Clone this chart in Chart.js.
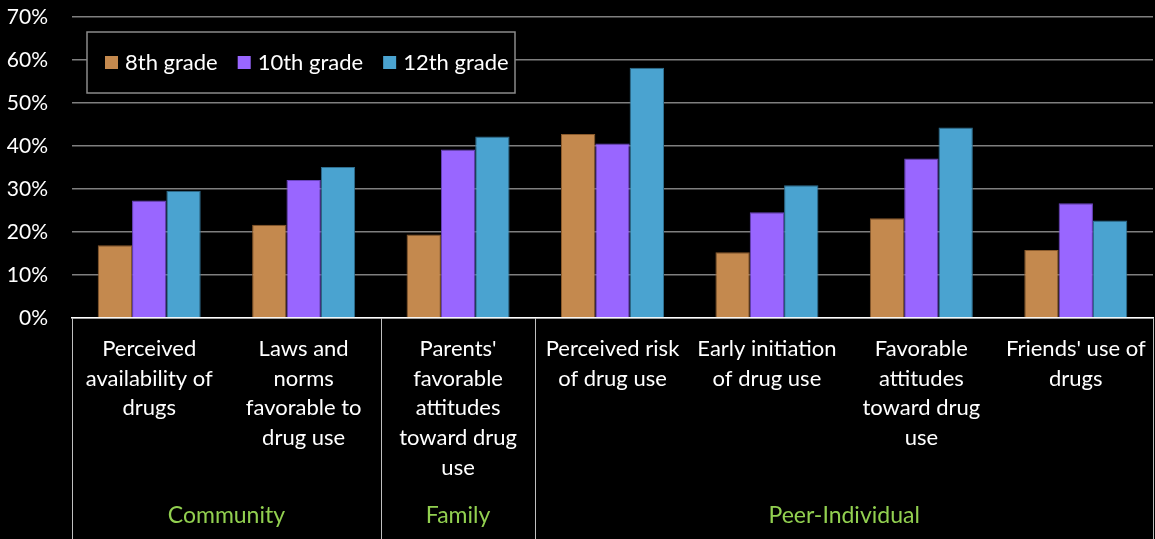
<!DOCTYPE html>
<html>
<head>
<meta charset="utf-8">
<script src="https://cdn.jsdelivr.net/npm/chart.js@4"></script>
<style>
  html, body { margin: 0; padding: 0; background: #000; }
  #wrap { width: 1155px; height: 539px; position: relative; }
</style>
</head>
<body>
<div id="wrap"><canvas id="riskChart"></canvas></div>
<script>
// categories (pre-wrapped like the original)
const categories = [
    ["Perceived", "availability of", "drugs"],
    ["Laws and", "norms", "favorable to", "drug use"],
    ["Parents'", "favorable", "attitudes", "toward drug", "use"],
    ["Perceived risk", "of drug use"],
    ["Early initiation", "of drug use"],
    ["Favorable", "attitudes", "toward drug", "use"],
    ["Friends' use of", "drugs"]
];
const groupNames = ["Community", "Family", "Peer-Individual"];
const groupSizes = [2, 1, 4];

const seriesNames = ["8th grade", "10th grade", "12th grade"];
const grade8 = [16.9, 21.7, 19.4, 42.8, 15.3, 23.2, 15.8];
const grade10 = [27.3, 32.1, 39.2, 40.6, 24.6, 37.1, 26.7];
const grade12 = [29.6, 35.1, 42.2, 58.2, 30.9, 44.3, 22.7];
const yTicks = [0, 10, 20, 30, 40, 50, 60, 70];

const FONT = "Lato, 'Open Sans', sans-serif";

// legend box drawn inside the plot area
const boxLegend = {
    id: 'boxLegend',
    afterDraw(chart) {
        const ctx = chart.ctx;
        ctx.save();
        ctx.fillStyle = '#000';
        ctx.fillRect(87, 32, 428, 61);
        ctx.strokeStyle = '#8a8a8a';
        ctx.lineWidth = 1.5;
        ctx.strokeRect(87, 32, 428, 61);
        ctx.font = "22px " + FONT;
        ctx.textBaseline = 'middle';
        let x = 105;
        chart.data.datasets.forEach(ds => {
            ctx.fillStyle = ds.backgroundColor;
            ctx.fillRect(x, 56, 13, 13);
            ctx.fillStyle = '#fff';
            ctx.fillText(ds.label, x + 20, 63);
            x += 20 + ctx.measureText(ds.label).width + 20;
        });
        ctx.restore();
    }
};

// group labels + divider lines under the category axis
const groupAxis = {
    id: 'groupAxis',
    afterDraw(chart) {
        const ctx = chart.ctx;
        const xs = chart.scales.x;
        const area = chart.chartArea;
        const bottom = chart.height;
        const edge = i => {
            if (i <= 0) return area.left;
            if (i >= categories.length) return area.right;
            return (xs.getPixelForValue(i - 1) + xs.getPixelForValue(i)) / 2;
        };
        ctx.save();
        ctx.strokeStyle = '#bfbfbf';
        ctx.lineWidth = 1;
        ctx.fillStyle = '#92d050';
        ctx.font = "23px " + FONT;
        ctx.textAlign = 'center';
        ctx.textBaseline = 'middle';
        let start = 0;
        const lines = [edge(0)];
        groupNames.forEach((name, g) => {
            const end = start + groupSizes[g];
            const a = edge(start), b = edge(end);
            lines.push(b);
            ctx.fillText(name, (a + b) / 2, 516);
            start = end;
        });
        lines.forEach(x => {
            const px = Math.round(x) + 0.5;
            ctx.beginPath();
            ctx.moveTo(px, area.bottom);
            ctx.lineTo(px, bottom);
            ctx.stroke();
        });
        ctx.restore();
    }
};

new Chart(document.getElementById('riskChart').getContext('2d'), {
    type: 'bar',
    data: {
        labels: categories,
        datasets: [
            { label: seriesNames[0], data: grade8, backgroundColor: '#c4894e', borderColor: '#8a5a2c', borderWidth: 1 },
            { label: seriesNames[1], data: grade10, backgroundColor: '#9966ff', borderColor: '#6a44c0', borderWidth: 1 },
            { label: seriesNames[2], data: grade12, backgroundColor: '#4aa3d0', borderColor: '#2f6f90', borderWidth: 1 }
        ]
    },
    options: {
        responsive: true,
        maintainAspectRatio: false,
        animation: false,
        layout: { padding: { top: 17, right: 2, left: 0, bottom: 0 } },
        datasets: { bar: { categoryPercentage: 0.667, barPercentage: 1.0 } },
        plugins: {
            legend: { display: false },
            tooltip: { enabled: false }
        },
        scales: {
            x: {
                grid: { display: false, drawTicks: false },
                border: { color: '#ffffff', width: 1.5 },
                ticks: {
                    color: '#ffffff',
                    font: { family: FONT, size: 22, lineHeight: 1.35 },
                    padding: 16,
                    autoSkip: false,
                    maxRotation: 0,
                    minRotation: 0
                },
                afterFit(scale) {
                    scale.height = 221;
                    scale.paddingLeft = 0;
                    scale.paddingRight = 0;
                }
            },
            y: {
                min: 0,
                max: 70,
                afterBuildTicks(scale) { scale.ticks = yTicks.map(v => ({ value: v })); },
                grid: { color: '#7f7f7f', lineWidth: 1.5, drawTicks: false },
                border: { display: false },
                ticks: {
                    color: '#ffffff',
                    font: { family: FONT, size: 21 },
                    padding: 24,
                    callback: v => v + '%'
                },
                afterFit(scale) {
                    scale.width = 72;
                    scale.paddingTop = 0;
                    scale.paddingBottom = 0;
                }
            }
        }
    },
    plugins: [boxLegend, groupAxis]
});
</script>
</body>
</html>
